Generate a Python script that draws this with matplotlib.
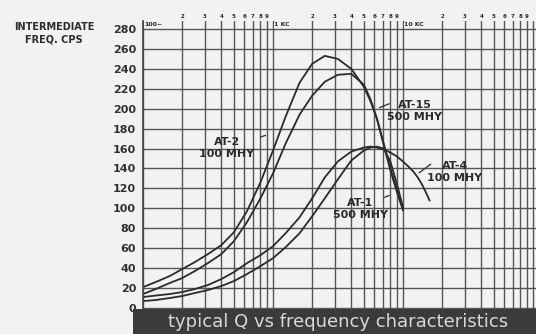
import matplotlib.pyplot as plt
from matplotlib.patches import Rectangle

# frequency (cps), Q values
freq = [100, 125, 160, 200, 250, 315, 400, 500, 630, 800, 1000, 1250,
        1600, 2000, 2500, 3150, 4000, 5000, 5600, 6300, 7100, 8000, 9000, 10000]
at2_q = [21, 26, 32, 39, 46, 54, 63, 76, 97, 126, 158, 192,
         226, 245, 253, 250, 240, 222, 208, 190, 165, 140, 118, 100]
at15_q = [14, 19, 25, 30, 37, 45, 54, 67, 86, 110, 135, 165,
          194, 213, 227, 234, 235, 224, 210, 190, 164, 138, 116, 98]
at1_q = [7, 8, 10, 12, 15, 18, 22, 27, 34, 42, 50, 61,
         75, 92, 110, 129, 148, 158, 161, 162, 160, 147, 124, 101]
at4_freq = freq + [11000, 12000, 13000, 14000, 15000, 16000]
at4_q = [11, 12.5, 14, 16, 19, 23, 29, 36, 45, 53, 62, 75,
         91, 110, 131, 147, 157, 161, 162, 161, 159, 156, 152, 147,
         142, 137, 131, 124, 116, 108]

y_ticks = list(range(0, 281, 20))
grid_freq = [m * 10 ** e for e in (2, 3, 4) for m in range(1, 10)] + [100000]
top_labels = {100: '100~', 1000: '1 KC', 10000: '10 KC'}

paper = '#f2f2f0'
ink = '#2b2b2b'

fig = plt.figure(figsize=(5.36, 3.34), dpi=100)
fig.patch.set_facecolor(paper)
ax = fig.add_axes([143 / 536, 23 / 334, 393 / 536, 290 / 334])
ax.set_facecolor(paper)

ax.set_xscale('log')
ax.set_xlim(100, 10 ** (2 + 393 / 130))
ax.set_ylim(-3, 288)

ax.set_xticks(grid_freq)
ax.set_xticks([], minor=True)
ax.set_xticklabels([])
ax.set_yticks(y_ticks)
ax.set_yticklabels([str(v) for v in y_ticks], fontsize=8, fontweight='bold', color='#303030')
ax.tick_params(axis='both', length=0)
ax.tick_params(axis='y', pad=5)
ax.grid(True, color='#555555', lw=1.0)
for s in ['top', 'right', 'bottom']:
    ax.spines[s].set_visible(False)
ax.spines['left'].set_color('#444444')
ax.spines['left'].set_linewidth(1.2)

# small labels above the vertical rulings
for f in grid_freq[:-1]:
    if f in top_labels:
        ax.text(f * 1.02, 284, top_labels[f], fontsize=4.5, fontweight='bold',
                color=ink, ha='left', va='center',
                bbox=dict(fc=paper, ec='none', pad=0.3))
    else:
        m = int(str(f)[0])
        ax.text(f, 290, str(m), fontsize=4, fontweight='bold', color=ink,
                ha='center', va='bottom', clip_on=False)

ax.plot(freq, at2_q, color=ink, lw=1.3)
ax.plot(freq, at15_q, color=ink, lw=1.3)
ax.plot(freq, at1_q, color=ink, lw=1.3)
ax.plot(at4_freq, at4_q, color=ink, lw=1.3)

lab = dict(fontsize=8, fontweight='bold', color=ink, ha='center', va='center',
           linespacing=1.25)
ax.text(440, 161, 'AT-2\n100 MHY', **lab)
ax.text(12300, 198, 'AT-15\n500 MHY', **lab)
ax.text(25000, 136, 'AT-4\n100 MHY', **lab)
ax.text(4700, 99, 'AT-1\n500 MHY', **lab)

lead = dict(arrowstyle='-', color=ink, lw=0.9)
ax.annotate('', xy=(920, 174), xytext=(770, 171), arrowprops=lead)
ax.annotate('', xy=(6300, 200), xytext=(8200, 206), arrowprops=lead)
ax.annotate('', xy=(12800, 134), xytext=(17000, 146), arrowprops=lead)
ax.annotate('', xy=(8200, 114), xytext=(6900, 110), arrowprops=lead)

fig.text(54 / 536, 1 - 33 / 334, 'INTERMEDIATE\nFREQ. CPS', fontsize=7,
         fontweight='bold', color=ink, ha='center', va='center', linespacing=1.3)

# caption strip at the bottom
fig.add_artist(Rectangle((133 / 536, 0), 403 / 536, 25 / 334, transform=fig.transFigure,
                         facecolor='#3b3b3b', edgecolor='none'))
fig.text(338 / 536, 12 / 334, 'typical Q vs frequency characteristics', fontsize=13,
         color='#d9d9d9', ha='center', va='center')

fig.savefig('out.png', dpi=100, facecolor=paper)
